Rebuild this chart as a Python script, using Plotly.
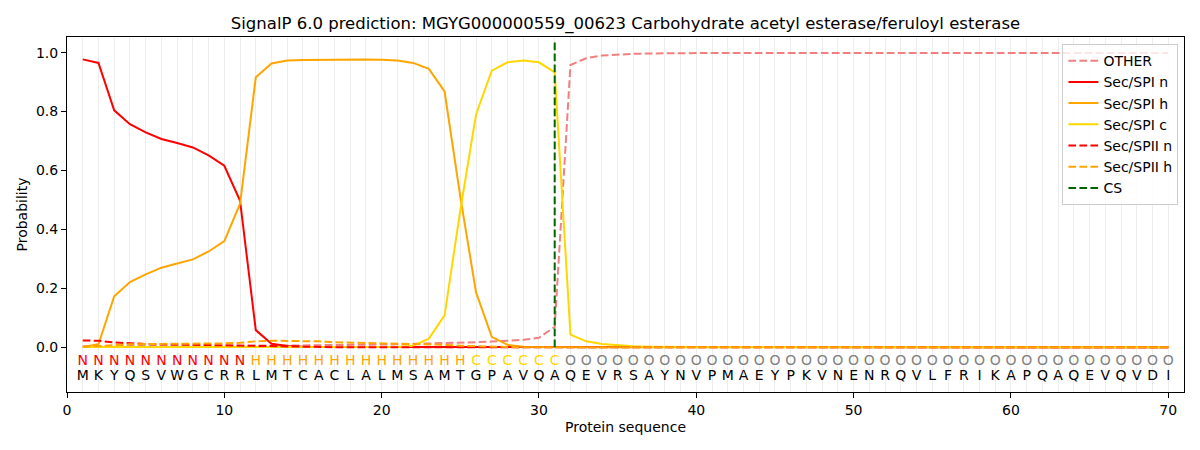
import plotly.graph_objects as go

positions = list(range(1, 71))
sequence = list("MKYQSVWGCRRLMTCACLALMSAMTGPAVQAQEVRSAYNVPMAEYPKVNENRQVLFRIKAPQAQEVQVDI")
region_labels = list("N" * 11 + "H" * 14 + "C" * 6 + "O" * 39)

other = [0.003, 0.004, 0.004, 0.004, 0.004, 0.004, 0.004, 0.004, 0.004, 0.004,
         0.004, 0.005, 0.005, 0.006, 0.006, 0.007, 0.007, 0.008, 0.008, 0.009,
         0.010, 0.011, 0.013, 0.014, 0.016, 0.017, 0.019, 0.022, 0.025, 0.032,
         0.069, 0.958, 0.981, 0.990, 0.994, 0.996, 0.997, 0.998, 0.999, 0.999] + [0.999] * 30
sp1_n = [0.977, 0.965, 0.804, 0.757, 0.729, 0.707, 0.693, 0.678, 0.651, 0.616,
         0.497, 0.058, 0.012, 0.004, 0.002] + [0.001] * 15 + [0.0] * 40
sp1_h = [0.001, 0.010, 0.173, 0.221, 0.247, 0.270, 0.284, 0.298, 0.325, 0.360,
         0.487, 0.916, 0.963, 0.973, 0.975, 0.976, 0.977, 0.977, 0.977, 0.976,
         0.973, 0.965, 0.945, 0.868, 0.510, 0.186, 0.035, 0.008, 0.002, 0.001] + [0.0] * 40
sp1_c = [0.001] * 21 + [0.005, 0.029, 0.108, 0.465, 0.790, 0.939, 0.967, 0.973, 0.967,
                        0.933, 0.043, 0.020, 0.011, 0.006, 0.003, 0.002] + [0.001] * 33
sp2_n = [0.023, 0.022, 0.016, 0.013, 0.011, 0.010, 0.009, 0.009, 0.008, 0.007,
         0.006, 0.003, 0.002, 0.001] + [0.0] * 56
sp2_h = [0.001, 0.004, 0.008, 0.010, 0.011, 0.011, 0.012, 0.012, 0.012, 0.013,
         0.015, 0.020, 0.022, 0.022, 0.021, 0.020, 0.017, 0.015, 0.014, 0.013,
         0.012, 0.011, 0.010, 0.008, 0.005, 0.003, 0.002, 0.001] + [0.0] * 42
cs_position = 31
cs_span = [0.0, 1.035]

label_colors = {"N": "red", "H": "orange", "C": "gold", "O": "gray"}
FONT = "DejaVu Sans"
DASH = "7.7px,3.3px"

fig = go.Figure()
series = [
    ("OTHER", other, "#F08080", DASH),
    ("Sec/SPI n", sp1_n, "red", "solid"),
    ("Sec/SPI h", sp1_h, "orange", "solid"),
    ("Sec/SPI c", sp1_c, "gold", "solid"),
    ("Sec/SPII n", sp2_n, "red", DASH),
    ("Sec/SPII h", sp2_h, "orange", DASH),
]
for name, vals, color, dash in series:
    fig.add_trace(go.Scatter(x=positions, y=vals, mode="lines", name=name,
                             line=dict(color=color, width=2, dash=dash)))
fig.add_trace(go.Scatter(x=[cs_position, cs_position], y=cs_span, mode="lines", name="CS",
                         line=dict(color="darkgreen", width=2, dash=DASH)))

fig.add_trace(go.Scatter(x=positions, y=[-0.047] * len(positions), mode="text",
                         text=region_labels, showlegend=False, hoverinfo="skip",
                         textfont=dict(family=FONT, size=14,
                                       color=[label_colors[c] for c in region_labels])))
fig.add_trace(go.Scatter(x=positions, y=[-0.098] * len(positions), mode="text",
                         text=sequence, showlegend=False, hoverinfo="skip",
                         textfont=dict(family=FONT, size=14, color="black")))

W, H = 1192, 442
grid_color = "#ededed"
fig.update_layout(
    width=W, height=H,
    margin=dict(l=59, r=16, t=29, b=58),
    paper_bgcolor="white", plot_bgcolor="white",
    font=dict(family=FONT, size=14, color="black"),
    title=dict(text="SignalP 6.0 prediction: MGYG000000559_00623 Carbohydrate acetyl esterase/feruloyl esterase",
               x=0.5, xref="paper", xanchor="center", y=1 - 15 / H, yanchor="middle",
               yref="container", automargin=False,
               font=dict(family=FONT, size=16.5, color="black")),
    legend=dict(x=0.995, y=0.98, xanchor="right", yanchor="top",
                bgcolor="rgba(255,255,255,0.8)", bordercolor="#cccccc", borderwidth=1,
                font=dict(family=FONT, size=14), itemwidth=30),
    showlegend=True,
)
fig.update_xaxes(range=[0, 71], tickvals=[0, 10, 20, 30, 40, 50, 60, 70],
                 automargin=False,
                 showline=True, linecolor="black", linewidth=1.1, mirror=True,
                 ticks="outside", ticklen=5, tickcolor="black", tickwidth=1.1,
                 showgrid=True, gridcolor=grid_color, gridwidth=1.4, zeroline=False,
                 minor=dict(dtick=1, tick0=0, showgrid=True, gridcolor=grid_color, gridwidth=1.4),
                 title=dict(text="Protein sequence", font=dict(family=FONT, size=14), standoff=5),
                 tickfont=dict(family=FONT, size=14))
fig.update_yaxes(range=[-0.152, 1.053], tickvals=[0, 0.2, 0.4, 0.6, 0.8, 1.0],
                 tickformat=".1f", automargin=False,
                 showline=True, linecolor="black", linewidth=1.1, mirror=True,
                 ticks="outside", ticklen=5, tickcolor="black", tickwidth=1.1,
                 showgrid=False, zeroline=False,
                 title=dict(text="Probability", font=dict(family=FONT, size=14), standoff=4),
                 tickfont=dict(family=FONT, size=14))

fig.write_html("out.html")
